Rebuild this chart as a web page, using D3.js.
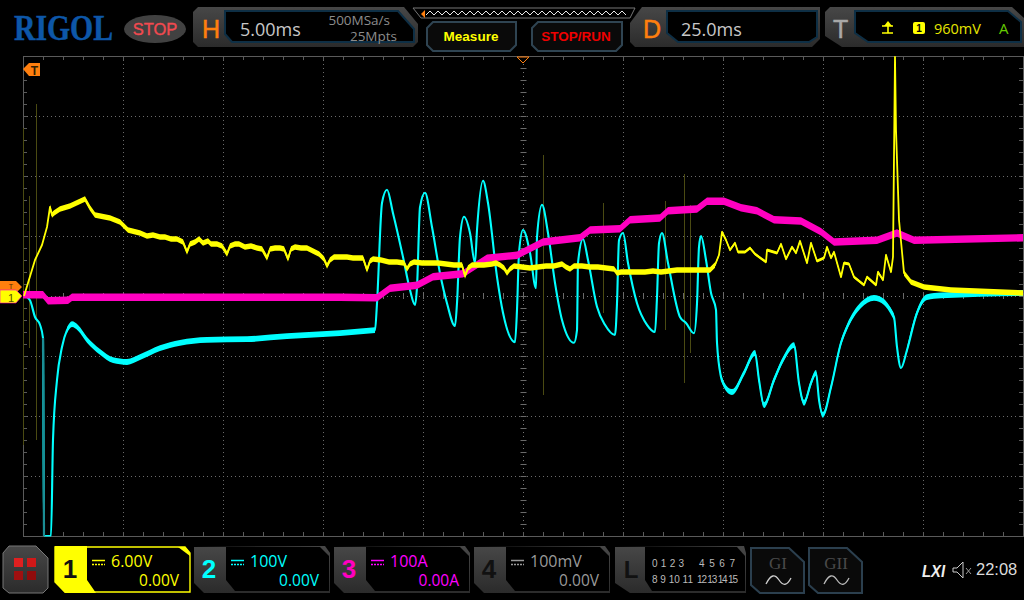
<!DOCTYPE html>
<html><head><meta charset="utf-8">
<script src="https://cdn.jsdelivr.net/npm/d3@7/dist/d3.min.js"></script>
<style>html,body{margin:0;padding:0;background:#000;overflow:hidden}svg{display:block}text{font-family:"Open Sans",sans-serif}</style>
</head><body><svg id="c" width="1024" height="600"></svg>
<script>
// [ms, volts]
const ch1Points=[[0.05,0],[0.25,1.3],[0.6,3.6],[0.95,5.1],[1.2,6.9],[1.35,8.9],[1.45,8.1],[1.55,8.3],[1.85,8.7],[2.35,9.0],[3.1,9.7],[3.35,8.8],[3.6,8.1],[4.35,7.8],[4.85,7.4],[5.25,6.6],[5.85,6.3],[6.2,6.0],[6.5,6.1],[6.85,5.9],[7.1,5.9],[7.4,5.7],[7.7,5.7],[8,5.4],[8.2,4.4],[8.35,5.2],[8.6,5.4],[8.8,5.7],[9.0,5.3],[9.25,5.5],[9.4,5.2],[9.7,5.2],[9.95,5.0],[10.2,4.2],[10.35,5.0],[10.6,5.2],[10.8,5.2],[11.1,4.9],[11.4,5.0],[11.7,4.8],[11.95,4.7],[12.2,3.8],[12.35,4.7],[12.6,4.8],[12.85,4.8],[13.05,4.7],[13.25,3.7],[13.4,4.7],[13.6,4.9],[13.9,4.8],[14.2,4.8],[14.5,4.5],[14.8,4.2],[15.05,3.7],[15.2,3.0],[15.35,3.6],[15.55,3.9],[15.85,3.9],[16.2,3.9],[16.5,3.8],[16.85,3.8],[17.0,3.8],[17.2,2.6],[17.35,3.5],[17.5,3.7],[17.9,3.6],[18.3,3.4],[18.7,3.4],[19.05,3.3],[19.2,2.7],[19.35,3.2],[19.55,3.4],[19.95,3.3],[20.35,3.3],[20.75,3.3],[21.15,3.2],[21.55,3.1],[21.95,3.1],[22.1,2.0],[22.25,2.8],[22.45,3.1],[22.85,3.1],[23.05,3.1],[23.45,3.2],[23.65,3.3],[23.85,3.1],[24.05,2.8],[24.2,2.3],[24.35,2.7],[24.55,3.0],[24.95,2.9],[25.35,2.8],[25.75,2.9],[26.15,3.0],[26.55,3.0],[26.95,3.2],[27.15,2.9],[27.35,2.7],[27.55,3.0],[27.95,3.0],[28.35,2.9],[28.75,2.9],[29.15,2.8],[29.55,2.7],[29.7,2.3],[29.9,2.4],[30.3,2.4],[30.7,2.4],[31.1,2.4],[31.5,2.5],[31.9,2.4],[32.3,2.5],[32.7,2.6],[33.1,2.6],[33.5,2.6],[33.9,2.6],[34.35,2.6],[34.6,3.1],[34.8,4.1],[34.95,6.4],[35.15,5.6],[35.35,4.6],[35.6,5.3],[35.75,4.4],[36.1,4.4],[36.35,4.8],[36.6,4.2],[37.15,3.4],[37.2,4.6],[37.7,4.3],[37.9,5.2],[38.15,3.7],[38.45,4.9],[38.65,4.3],[38.85,5.5],[39.2,3.3],[39.4,5.3],[39.7,3.5],[40.05,3.8],[40.2,4.9],[40.4,3.8],[40.55,4.4],[40.9,1.9],[41.05,3.3],[41.3,3.2],[41.55,1.9],[42.05,1.1],[42.2,1.9],[42.65,1.1],[42.75,2.4],[43.0,1.6],[43.15,4.1],[43.4,2.4],[43.5,3.9],[43.6,23.9],[43.65,16.6],[43.8,7.6],[44.05,2.3],[44.4,1.4],[45.05,0.9],[46.4,0.6],[50,0.3]];
const ch2Points=[[0.1,0],[0.35,-7],[0.6,-35],[0.85,-48],[1.0,-70],[1.05,-400],[1.4,-400],[1.5,-240],[1.7,-140],[1.95,-85],[2.2,-57],[2.45,-47],[2.75,-53],[3.2,-73],[3.85,-93],[4.5,-107],[5.2,-110],[5.85,-102],[6.85,-87],[7.85,-78],[9.2,-73],[11.2,-72],[13.2,-67],[15.85,-62],[17.6,-57],[17.7,-12],[17.95,155],[18.2,177],[18.5,138],[19.0,65],[19.35,10],[19.6,-15],[19.7,15],[19.85,148],[20.1,172],[20.45,115],[20.85,38],[21.2,-12],[21.6,-50],[21.7,-12],[21.85,98],[22.05,132],[22.35,105],[22.6,55],[22.7,110],[23.0,192],[23.25,155],[23.7,32],[24.0,-28],[24.6,-77],[24.7,-23],[24.8,72],[25,110],[25.35,72],[25.65,13],[25.7,98],[25.95,152],[26.25,105],[26.6,22],[26.95,-40],[27.55,-78],[27.7,-57],[27.75,55],[28,95],[28.25,60],[28.7,-18],[29.1,-48],[29.6,-65],[29.7,-12],[29.8,93],[30,105],[30.25,55],[30.7,-12],[31.2,-48],[31.6,-60],[31.7,-2],[31.8,88],[31.95,105],[32.25,55],[32.85,-35],[33.15,-45],[33.55,-62],[33.7,-12],[33.8,82],[33.9,100],[34.15,60],[34.4,5],[34.65,-23],[34.7,-78],[34.9,-135],[35.05,-148],[35.45,-160],[36.05,-128],[36.6,-95],[36.8,-140],[37.05,-182],[37.55,-140],[38.05,-103],[38.55,-82],[38.8,-145],[39.05,-178],[39.4,-145],[39.65,-128],[39.8,-173],[40,-198],[40.4,-152],[40.9,-78],[41.2,-52],[41.9,-15],[42.55,-3],[43.05,-10],[43.55,-35],[43.7,-85],[43.9,-120],[44.2,-90],[44.7,-28],[45.2,-2],[45.9,1],[50,5]];
const ch3Points=[[0,2],[1,2],[1.25,-8],[2.25,-7],[2.45,-2],[15.85,-2],[17.7,-3],[18.35,13],[19.7,18],[20.5,32],[22,37],[23.2,63],[24.7,68],[26,90],[27.85,97],[28.35,110],[29.85,112],[30.35,127],[31.85,130],[32.25,142],[33.7,145],[34.2,158],[35.05,158],[35.9,147],[36.7,142],[37.55,127],[38.9,125],[39.9,107],[40.55,90],[42.7,93],[43.7,105],[44.55,93],[50,97]];
// rare glitches on channel 1: [ms, minV, maxV]
const ch1Glitches=[[0,-14.9,16.8],[0.3,-5.2,10],[0.65,-14.4,19.2],[26,-9.9,14.1],[29,-1.7,9.3],[32.1,-3.4,9.5],[33.05,-8.7,12.2],[33.35,-5.7,9.1]];
// time windows (ms) where each trace is slow enough to show its full noise band
const ch1SlowWindows=[[1.35,34.6],[44.05,50]];
const ch1MidWindows=[[34.6,43.5]];
const ch2SlowWindows=[[2.2,17.6],[34.9,43.55],[44.2,50]];
const ch2DimWindow=[1.0,1.05];
const hDiv=10,vDiv=8;
const headerTexts={h:"5.00ms",rate:"500MSa/s",mem:"25Mpts",d:"25.0ms",trig:"960mV"};

const svg=d3.select("#c");
const PL=23,PR=1023,PT=56,PB=536;
const x=d3.scaleLinear().domain([0,50]).range([PL,PR]);
const yDiv=d3.scaleLinear().domain([-4,4]).range([PB,PT]);
const y1=d3.scaleLinear().domain([-24,24]).range([PB,PT]);
const y2=d3.scaleLinear().domain([-400,400]).range([PB,PT]);
const y3=d3.scaleLinear().domain([-400,400]).range([PB,PT]);

// ---------- grid
const g=svg.append("g");
const C="#6a6a6a";
d3.range(1,hDiv).forEach(i=>{const X=x(i*5)+.5;g.append("line").attr("x1",X).attr("x2",X).attr("y1",PT).attr("y2",PB).attr("stroke",i==5?"#777":C).attr("stroke-dasharray","1 3");});
d3.range(-3,4).forEach(i=>{const Y=yDiv(i)+.5;g.append("line").attr("x1",PL).attr("x2",PR).attr("y1",Y).attr("y2",Y).attr("stroke",i==0?"#777":C).attr("stroke-dasharray","1 3");});
g.append("rect").attr("x",PL+.5).attr("y",PT+.5).attr("width",PR-PL).attr("height",PB-PT).attr("fill","none").attr("stroke","#5a5a5a");
d3.range(0,50.01,1).forEach(t=>{const X=Math.round(x(t))+.5;
  g.append("line").attr("x1",X).attr("x2",X).attr("y1",PT).attr("y2",PT+4).attr("stroke","#5a5a5a");
  g.append("line").attr("x1",X).attr("x2",X).attr("y1",PB-4).attr("y2",PB).attr("stroke","#5a5a5a");
  g.append("line").attr("x1",X).attr("x2",X).attr("y1",yDiv(0)-3).attr("y2",yDiv(0)+3).attr("stroke","#6a6a6a");});
d3.range(-4,4.01,.2).forEach(d=>{const Y=Math.round(yDiv(d))+.5;
  g.append("line").attr("x1",PL).attr("x2",PL+4).attr("y1",Y).attr("y2",Y).attr("stroke","#5a5a5a");
  g.append("line").attr("x1",PR-4).attr("x2",PR).attr("y1",Y).attr("y2",Y).attr("stroke","#5a5a5a");
  g.append("line").attr("x1",x(25)-2.5).attr("x2",x(25)+3.5).attr("y1",Y).attr("y2",Y).attr("stroke","#6a6a6a");});

// ---------- traces
const defs=svg.append("defs");
defs.append("clipPath").attr("id","plot").append("rect").attr("x",PL).attr("y",PT).attr("width",PR-PL).attr("height",PB-PT+.5);
const tr=svg.append("g").attr("clip-path","url(#plot)");
tr.selectAll("line.gl").data(ch1Glitches).join("line").attr("class","gl")
  .attr("x1",d=>x(d[0])+.5).attr("x2",d=>x(d[0])+.5).attr("y1",d=>y1(d[2])).attr("y2",d=>y1(d[1]))
  .attr("stroke","#4a4a12").attr("stroke-width",1);
function band(pts,ys,col,h,curve,windows){
  const area=d3.area().curve(curve).x(d=>x(d[0])).y0(d=>ys(d[1])-h).y1(d=>ys(d[1])+h);
  windows.forEach(W=>tr.append("path").attr("d",area(pts.filter(d=>d[0]>=W[0]&&d[0]<=W[1]))).attr("fill",col));
}
function trace(pts,ys,col,w,curve){
  const line=d3.line().curve(curve).x(d=>x(d[0])).y(d=>ys(d[1]));
  tr.append("path").attr("d",line(pts)).attr("fill","none").attr("stroke",col).attr("stroke-width",w).attr("stroke-linejoin","round");
}
band(ch2Points,y2,"#00ffff",2.9,d3.curveMonotoneX,ch2SlowWindows);
trace(ch2Points,y2,"#00ffff",2.1,d3.curveMonotoneX);
tr.append("path").attr("d",d3.line().x(d=>x(d[0])).y(d=>y2(d[1]))(ch2Points.filter(d=>d[0]>=ch2DimWindow[0]&&d[0]<=ch2DimWindow[1]))).attr("stroke","#1b8d94").attr("stroke-width",2.2).attr("fill","none");
band(ch3Points,y3,"#ff00c0",3.7,d3.curveLinear,[[0,50]]);
trace(ch3Points,y3,"#ff00c0",2,d3.curveLinear);
band(ch1Points,y1,"#ffff00",2.8,d3.curveLinear,ch1SlowWindows);
band(ch1Points,y1,"#ffff00",1.4,d3.curveLinear,ch1MidWindows);
trace(ch1Points,y1,"#ffff00",1.8,d3.curveLinear);

// ---------- chrome helpers
const gr=defs.append("linearGradient").attr("id","pg").attr("x1",0).attr("y1",0).attr("x2",0).attr("y2",1);
gr.append("stop").attr("offset",0).attr("stop-color","#474747");gr.append("stop").attr("offset",1).attr("stop-color","#2b2b2b");
const poly=(pts,fill,stroke,sw)=>svg.append("polygon").attr("points",pts).attr("fill",fill).attr("stroke",stroke||"none").attr("stroke-width",sw||1);
const txt=(s,X,Y,size,col,anchor,extra)=>{const t=svg.append("text").attr("x",X).attr("y",Y).attr("font-size",size).attr("fill",col).attr("text-anchor",anchor||"start").text(s);if(extra)for(const k in extra)t.attr(k,extra[k]);return t;};
const SANS={"style":'font-family:"Liberation Sans"'};
const SANSB={"style":'font-family:"Liberation Sans";font-weight:bold'};
const BLUE="#0e2f45";

// logo
txt("RIGOL",14,40,36,"#0d57a8","start",{"style":'font-family:"Liberation Serif";font-weight:bold',"textLength":99,"lengthAdjust":"spacingAndGlyphs","stroke":"#0d57a8","stroke-width":.5});
svg.append("ellipse").attr("cx",155).attr("cy",29).attr("rx",31).attr("ry",14).attr("fill","#414141");
txt("STOP",155,35,16.5,"#f24a50","middle",{...SANS,"stroke":"#f24a50","stroke-width":.35});

// H panel
poly("193,12 198,7 404,7 418,24 418,42 413,47 198,47 193,42","url(#pg)");
poly("225,11 398,11 414,29 414,42 232,42 225,34","#000",BLUE,2);
txt("H",202,38,25,"#ff7f0e","start",{...SANS,"stroke":"#ff7f0e","stroke-width":.5});
txt(headerTexts.h,240,36,18,"#c8c8c8");
txt(headerTexts.rate,390,25,13.5,"#8c8c8c","end");
txt(headerTexts.mem,397,41,13.5,"#8c8c8c","end");

// memory strip
svg.append("polyline").attr("points","413,8 635,8 630,18 421,18 413,8").attr("fill","none").attr("stroke","#777");
const zz=d3.range(426,630,4).map((X,i)=>`${X},${i%2?11:15}`).join(" ");
svg.append("polyline").attr("points",zz).attr("fill","none").attr("stroke","#e8e8e8");
poly("421,14 425,10 425,18","#ff7f0e");

// buttons
poly("427,28 433,22 516,22 516,45 510,51 433,51 427,45","#0a0a0a","#2f4452",2);
txt("Measure",471,41,13.5,"#ffff00","middle",SANSB);
poly("532,28 538,22 622,22 622,45 616,51 538,51 532,45","#0a0a0a","#2f4452",2);
txt("STOP/RUN",576,41,13.5,"#f00000","middle",SANSB);

// D panel
poly("630,23 642,7 820,7 820,39 812,47 635,47 630,42","url(#pg)");
poly("667,11 817,11 817,37 809,42 678,42 667,33","#000",BLUE,2);
txt("D",643,38,25,"#ff7f0e","start",{...SANS,"stroke":"#ff7f0e","stroke-width":.5});
txt(headerTexts.d,681,36,18,"#c8c8c8");

// T panel
poly("825,12 830,7 1012,7 1024,18 1024,47 842,47 825,36","url(#pg)");
poly("855,11 1008,11 1021,22 1021,42 868,42 855,33","#000",BLUE,2);
txt("T",833,38,25,"#a8a8a8","start",{...SANS,"stroke":"#a8a8a8","stroke-width":.5});
svg.append("path").attr("d","M882,33H888V26M893,33H888M882,26H893").attr("fill","none").attr("stroke","#ffff00").attr("stroke-width",1.6);
poly("884,26 888,21 892,26","#ffff00");
svg.append("rect").attr("x",913).attr("y",22).attr("width",12).attr("height",12).attr("rx",2).attr("fill","#ffff00");
txt("1",919,32,10,"#000","middle",SANSB);
txt(headerTexts.trig,934,34,14.5,"#e6e600");
txt("A",999,34,15,"#66cc00");

// on-screen markers
poly("23,69 29,63 40,63 40,76 29,76","#ff7f0e");
txt("T",34.5,75,12,"#332000","middle",SANSB);
poly("517,57 529,57 523,63","#000","#ff7f0e");
poly("0,281 16,281 22,287 16,293 0,293","#ff7f0e");
txt("T",11,289,7,"#552a00","middle",SANS);
poly("0,290 16,290 22,296 16,303 0,303","#ffff00","#ff00c0",.6);
txt("1",11,302,11,"#555500","middle",SANS);

// footer
poly("3,553 9,546 36,546 48,558 48,588 43,593 9,593 3,588","url(#pg)","#777");
[[14,558,"#e02020"],[27,558,"#d01818"],[14,571,"#a01010"],[27,571,"#900c0c"]].forEach(d=>svg.append("rect").attr("x",d[0]).attr("y",d[1]).attr("width",9).attr("height",9).attr("fill",d[2]));

function chan(x0,w,num,numCol,top,bot,col,active){
  const xr=x0+w, lb=x0+32;
  if(active){
    poly(`${x0},547 ${xr-5},547 ${xr},553 ${xr},592 ${x0+10},592 ${x0},582`,"#000","#ffff00",1.4);
    poly(`${x0},546 ${lb},546 ${lb},580 ${lb+9},593 ${x0+10},593 ${x0},582`,"#ffff00");
    poly(`${xr-12},547 ${xr-5},547 ${xr},553 ${xr},556`,"#ffff00");
  }else{
    poly(`${x0},547 ${xr-5},546 ${xr},553 ${xr},593 ${x0+10},593 ${x0},583`,"url(#pg)");
    poly(`${lb},547 ${xr-10},547 ${xr-1},556 ${xr-1},591 ${lb+9},591 ${lb},580`,"#000");
  }
  txt(num,x0+15,578,26,numCol,"middle",SANSB);
  svg.append("path").attr("d",`M${lb+5},560.5H${lb+18}`).attr("stroke",col).attr("stroke-width",1.5);
  svg.append("path").attr("d",`M${lb+5},564.5H${lb+18}`).attr("stroke",col).attr("stroke-width",1.5).attr("stroke-dasharray","2 1");
  txt(top,lb+24,567,16,col);
  txt(bot,xr-11,586,15.5,col,"end");
}
chan(55,135,"1","#111","6.00V","0.00V","#ffff00",true);
chan(194,136,"2","#00ffff","100V","0.00V","#00ffff");
chan(334,136,"3","#ff00c0","100A","0.00A","#ff00ff");
chan(474,136,"4","#111","100mV","0.00V","#9a9a9a");

// L
poly("615,547 744,546 746,553 746,593 630,593 615,583","url(#pg)");
poly("645,547 737,547 745,556 745,591 652,591 645,580","#000");
txt("L",631,578,24,"#111","middle",SANSB);
txt("0 1 2 3",652,567,10,"#bbb","start",{...SANS,textLength:32});
txt("4 5 6 7",699,567,10,"#bbb","start",{...SANS,textLength:36});
txt("8 9 10 11",652,583,10,"#bbb","start",{...SANS,textLength:41});
txt("12 13 14 15",697,583,10,"#bbb","start",{...SANS,textLength:41});

// G buttons
[[751,"GI"],[809,"GII"]].forEach(d=>{
  poly(`${d[0]},548 ${d[0]+38},548 ${d[0]+53},562 ${d[0]+53},593 ${d[0]+9},593 ${d[0]},585`,"#0a0a0a","#2b3f4e",2);
  txt(d[1],d[0]+27,569,17,"#4a4a4a","middle",{"style":'font-family:"Liberation Serif"'});
  svg.append("path").attr("d",`M${d[0]+15},584 C${d[0]+20},574 ${d[0]+24},574 ${d[0]+28},580 S${d[0]+36},586 ${d[0]+40},578`).attr("fill","none").attr("stroke",d[0]==751?"#cfcfcf":"#bbb").attr("stroke-width",1.3);
});

// status
txt("LXI",922,577,17,"#eee","start",{"style":'font-family:"Liberation Sans";font-weight:bold;font-style:italic',"textLength":23,"lengthAdjust":"spacingAndGlyphs"});
svg.append("path").attr("d","M953,568V572H957L963,578V562L957,568Z").attr("fill","none").attr("stroke","#ccc");
svg.append("path").attr("d","M966,568L971,574M971,568L966,574").attr("stroke","#999");
txt("22:08",976,575,16.5,"#dcdcdc","start",SANS);
</script></body></html>
